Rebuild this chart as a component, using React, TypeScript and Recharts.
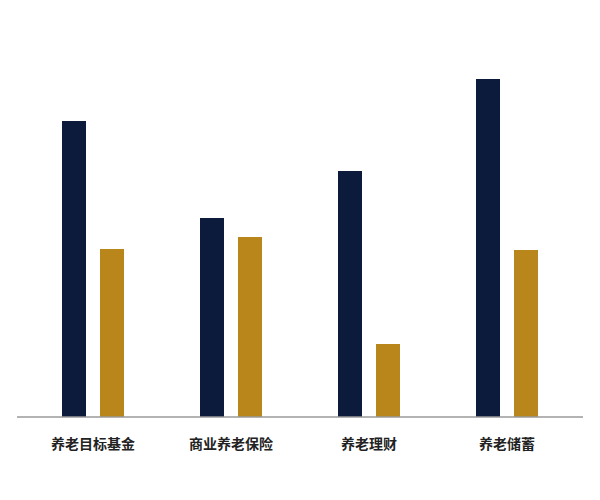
import { BarChart, Bar, XAxis, YAxis } from "recharts";

const CATEGORIES = ["养老目标基金", "商业养老保险", "养老理财", "养老储蓄"];
const SERIES_A = [29.6, 19.9, 24.6, 33.8];
const SERIES_B = [16.8, 18.0, 7.3, 16.7];

const NAVY = "#0c1b3b";
const GOLD = "#b8861b";

const data = CATEGORIES.map((name, i) => ({
  name,
  a: SERIES_A[i],
  b: SERIES_B[i],
}));

export default function App() {
  return (
    <div style={{ position: "absolute", left: 0, top: 0, width: 600, height: 500, background: "#fff" }}>
      <BarChart
        width={600}
        height={500}
        data={data}
        margin={{ top: 17, right: 17, bottom: 53, left: 17 }}
        barSize={24}
        barGap={14}
      >
        <XAxis
          dataKey="name"
          padding={{ left: 7, right: 7 }}
          tickLine={false}
          tickMargin={16}
          axisLine={{ stroke: "#9a9a9a", strokeWidth: 1.5 }}
          tick={{
            fontSize: 14,
            fontWeight: 700,
            fill: "#222",
            fontFamily: "'Noto Sans CJK SC', sans-serif",
          }}
          interval={0}
        />
        <YAxis hide domain={[0, 40]} />
        <Bar dataKey="a" fill={NAVY} isAnimationActive={false} />
        <Bar dataKey="b" fill={GOLD} isAnimationActive={false} />
      </BarChart>
    </div>
  );
}
